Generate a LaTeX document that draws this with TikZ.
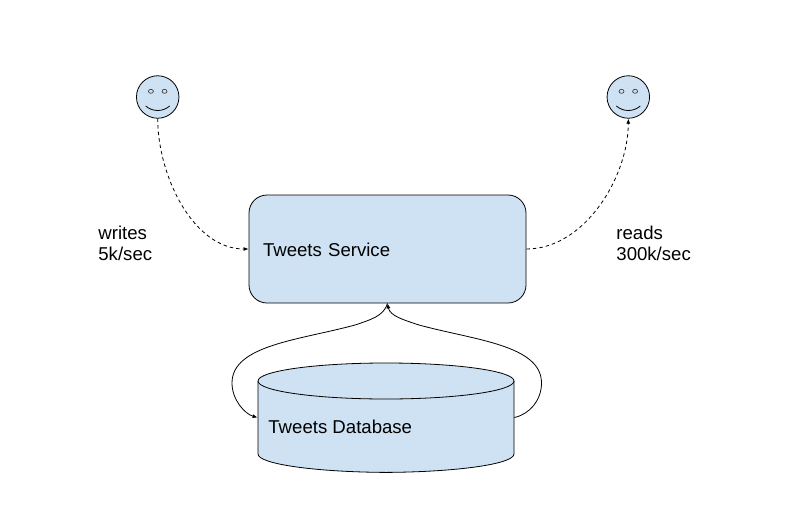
\documentclass[tikz,border=0pt]{standalone}
\usepackage{fontspec}
\setmainfont{Liberation Sans}
\usetikzlibrary{arrows.meta}
\definecolor{boxblue}{HTML}{CFE2F3}

\begin{document}
\begin{tikzpicture}[
            x=1pt, y=-1pt,
            every node/.style={font=\fontsize{18.6}{21}\selectfont},
            line width=0.8pt,
            tip/.style={-{Latex[length=5pt,width=4pt]}},
            flow/.style={tip, dash pattern=on 3.5pt off 3pt},
            face/.style={draw,circle,fill=boxblue,minimum size=42.5pt,inner sep=0pt},
            caption/.style={align=left,anchor=west,inner sep=0pt},
            ]
            \useasboundingbox (0, 0) rectangle (802, 519);

            % users
            \foreach \name/\cx in {writer/157.7, reader/628.3} {
                \node[face] (\name) at (\cx, 97) {};
                \draw[line width=0.7pt,draw=black!75] (\cx-6.8, 91.3) ellipse (2.5pt and 2pt);
                \draw[line width=0.7pt,draw=black!75] (\cx+6.8, 91.3) ellipse (2.5pt and 2pt);
                \draw (\cx-12, 106) .. controls (\cx-5, 112) and (\cx+5, 112) .. (\cx+12, 106);
            }

            \node[draw,rounded corners=18pt,fill=boxblue,minimum width=277pt,minimum height=108pt,
                text width=249pt,text height=14.5pt,text depth=0pt,inner xsep=14pt,align=left] (service) at (387.5, 249) {Tweets Service};

            % database, body then lid
            \node[minimum width=256pt,minimum height=109pt,inner sep=0pt] (database) at (386, 417.5) {};
            \draw[fill=boxblue] (258, 381) -- (258, 454)
                .. controls (258, 464) and (315, 472) .. (database.south)
                .. controls (457, 472) and (514, 464) .. (514, 454) -- (514, 381);
            \draw[fill=boxblue] (386, 381) ellipse (128pt and 18pt);
            \node[caption] (dblabel) at (268, 427) {Tweets Database};

            \node[caption] (writes) at (98, 243) {writes\\5k/sec};
            \node[caption] (reads) at (616, 243) {reads\\300k/sec};

            \draw[flow] (writer.south) to[out=-90,in=180,looseness=0.9] (service.west);
            \draw[flow] (service.east) to[out=0,in=-90,looseness=0.9] (reader.south);

            \draw[tip] (service.south) .. controls (384, 316) and (370, 320) .. (355, 325)
                .. controls (300, 340) and (232, 345) .. (232, 383)
                .. controls (232, 400) and (245, 414) .. (database.west);
            \draw[tip] (database.east) .. controls (530, 414) and (541.5, 400) .. (541.5, 383)
                .. controls (541.5, 345) and (474, 340) .. (419, 325)
                .. controls (404, 320) and (390, 316) .. (service.south);
        \end{tikzpicture}
\end{document}
